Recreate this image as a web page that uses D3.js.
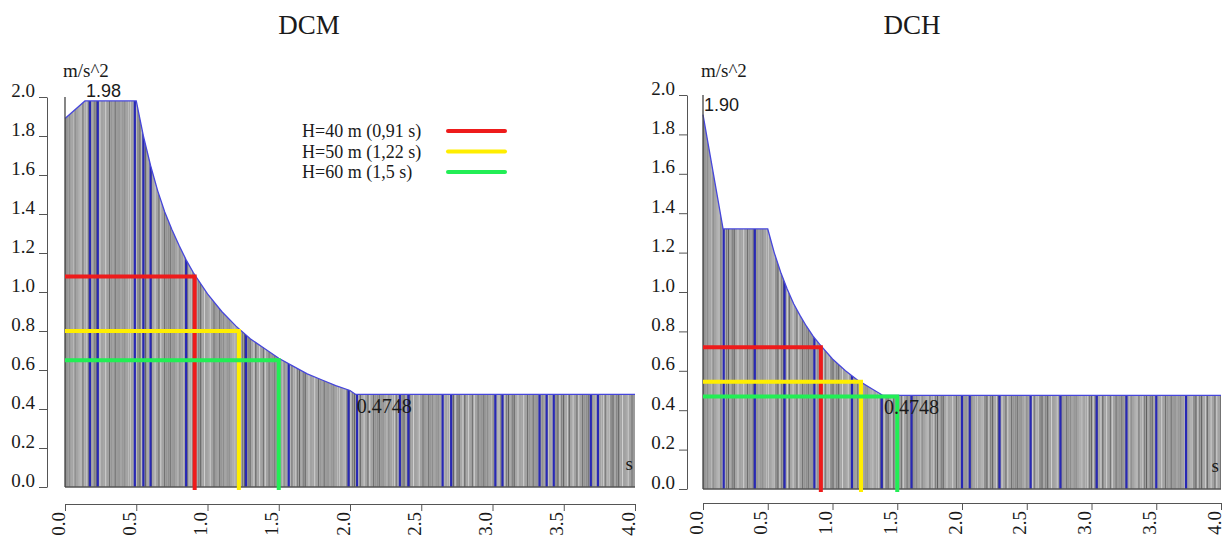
<!DOCTYPE html>
<html>
<head>
<meta charset="utf-8">
<script src="https://cdn.jsdelivr.net/npm/d3@7"></script>
<style>
  html, body { margin: 0; padding: 0; background: #fff; }
  svg { display: block; }
</style>
</head>
<body>
<svg id="chart" width="1223" height="538"></svg>
<script>
// ---------------- DATA ----------------
const titles = ["DCM", "DCH"];
const unitLabel = "m/s^2";
const xUnitLabel = "s";

// DCM spectrum (period s, acceleration m/s^2)
const dcmT = [0, 0.14, 0.5, 0.55, 0.6, 0.65, 0.7, 0.75, 0.8, 0.85, 0.9, 1.0, 1.1, 1.2, 1.3, 1.4, 1.5, 1.6, 1.7, 1.8, 1.9, 2.0, 2.04, 4.0];
const dcmA = [1.89, 1.98, 1.98, 1.80, 1.65, 1.52, 1.41, 1.32, 1.24, 1.165, 1.10, 0.99, 0.90, 0.825, 0.76, 0.71, 0.66, 0.62, 0.58, 0.55, 0.52, 0.495, 0.4748, 0.4748];

// DCH spectrum
const dchT = [0, 0.155, 0.5, 0.55, 0.6, 0.65, 0.7, 0.75, 0.8, 0.85, 0.9, 1.0, 1.1, 1.2, 1.3, 1.39, 4.0];
const dchA = [1.90, 1.32, 1.32, 1.20, 1.10, 1.015, 0.94, 0.88, 0.825, 0.776, 0.735, 0.66, 0.60, 0.55, 0.51, 0.4748, 0.4748];

// blue vertical marks (periods)
const dcmBlueT = [0.175, 0.23, 0.49, 0.55, 0.60, 0.85, 1.27, 1.57, 1.99, 2.05, 2.35, 2.41, 2.65, 2.71, 3.02, 3.07, 3.33, 3.38, 3.43, 3.69, 3.74];
const dchBlueT = [0.16, 0.40, 0.63, 0.86, 1.15, 1.38, 1.61, 2.0, 2.06, 2.29, 2.53, 2.76, 3.04, 3.27, 3.50, 3.73];

// building periods and spectral values
const legendLabels = ["H=40 m (0,91 s)", "H=50 m (1,22 s)", "H=60 m (1,5 s)"];
const markerColors = ["#ee1b1b", "#ffee00", "#22ee55"];
const markerT = [0.91, 1.22, 1.5];
const dcmMarkA = [1.08, 0.80, 0.65];
const dchMarkA = [0.72, 0.545, 0.47];

// annotations
const dcmPeakLabel = "1.98", dcmPeakT = 0.14, dcmPeakA = 1.98;
const dchPeakLabel = "1.90", dchPeakT = 0, dchPeakA = 1.90;
const floorLabel = "0.4748";
const dcmFloorT = 2.04, dchFloorT = 1.39, floorA = 0.4748;

const xTicks = [0, 0.5, 1.0, 1.5, 2.0, 2.5, 3.0, 3.5, 4.0];
const yTicks = [0, 0.2, 0.4, 0.6, 0.8, 1.0, 1.2, 1.4, 1.6, 1.8, 2.0];

// ---------------- DRAW ----------------
const svg = d3.select("#chart");
const SERIF = "'Liberation Serif', 'Times New Roman', serif";
const SANS = "'Liberation Sans', Arial, sans-serif";
const TXT = "#1a1a1a";
const AX = "#555";

const hatchColors = ["#6f6f6f", "#aaaaaa", "#c8c8c8", "#8c8c8c", "#a2a2a2", "#606060", "#bababa", "#959595", "#d0d0d0", "#7c7c7c", "#a6a6a6"];

function panel(cfg) {
  const g = svg.append("g");
  const x = d3.scaleLinear().domain([0, 4]).range([cfg.x0, cfg.x1]);
  const y = d3.scaleLinear().domain([0, 2]).range([cfg.yb, cfg.yt]);
  const pts = cfg.T.map((t, i) => [t, cfg.A[i]]);

  // title
  g.append("text").attr("x", cfg.titleX).attr("y", 34)
    .attr("text-anchor", "middle").style("font-family", SERIF)
    .style("font-size", "27px").attr("fill", TXT).text(cfg.title);

  // unit label
  g.append("text").attr("x", cfg.x0 - 2).attr("y", cfg.unitY)
    .style("font-family", SERIF).style("font-size", "19px").attr("fill", TXT).text(unitLabel);

  // area
  const area = d3.area().x(d => x(d[0])).y0(y(0)).y1(d => y(d[1]));
  const line = d3.line().x(d => x(d[0])).y(d => y(d[1]));
  const clipId = "clip-" + cfg.title;
  svg.append("defs").append("clipPath").attr("id", clipId)
    .append("path").attr("d", area(pts));

  g.append("path").attr("d", area(pts)).attr("fill", "#a3a3a3");

  const hatch = g.append("g").attr("clip-path", `url(#${clipId})`);
  const xs = d3.range(cfg.x0 + 0.8, cfg.x1, 1.9);
  hatch.selectAll("line.h").data(xs).enter().append("line")
    .attr("x1", d => d).attr("x2", d => d)
    .attr("y1", y(2.05)).attr("y2", y(0))
    .attr("stroke", (d, i) => hatchColors[(i * 7 + Math.floor(i / 5)) % hatchColors.length])
    .attr("stroke-width", 1);

  hatch.selectAll("line.b").data(cfg.blue).enter().append("line")
    .attr("x1", d => x(d)).attr("x2", d => x(d))
    .attr("y1", y(2.05)).attr("y2", y(0))
    .attr("stroke", "#2828b4").attr("stroke-width", 2.2);

  // outline
  g.append("path").attr("d", line(pts)).attr("fill", "none")
    .attr("stroke", "#4646dc").attr("stroke-width", 1.3);
  g.append("line").attr("x1", x(0)).attr("x2", x(4)).attr("y1", y(0)).attr("y2", y(0))
    .attr("stroke", "#555").attr("stroke-width", 1.5);
  g.append("line").attr("x1", x(0)).attr("x2", x(0)).attr("y1", y(0)).attr("y2", y(2))
    .attr("stroke", "#444").attr("stroke-width", 1.3);

  // period markers
  markerT.forEach((t, i) => {
    const a = cfg.mark[i];
    g.append("path")
      .attr("d", `M${x(0)},${y(a)}H${x(t)}V${y(0) + 3}`)
      .attr("fill", "none").attr("stroke", markerColors[i])
      .attr("stroke-width", 4).attr("stroke-linejoin", "miter");
  });

  // peak label
  g.append("text").attr("x", x(cfg.peakT) + 1).attr("y", y(cfg.peakA) - 4)
    .style("font-family", SANS).style("font-size", "18px").attr("fill", TXT).text(cfg.peakLabel);

  // floor label
  g.append("text").attr("x", x(cfg.floorT) + 1).attr("y", y(floorA) + 19)
    .style("font-family", SERIF).style("font-size", "20px").attr("fill", TXT).text(floorLabel);

  // s label
  g.append("text").attr("x", x(4) - 2).attr("y", cfg.yb - 17)
    .attr("text-anchor", "end")
    .style("font-family", SERIF).style("font-size", "19px").attr("fill", TXT).text(xUnitLabel);

  // y axis
  const ya = g.append("g").attr("transform", `translate(${cfg.yAxisX},0)`)
    .call(d3.axisLeft(y).tickValues(yTicks).tickFormat(d3.format(".1f")).tickSize(8).tickSizeOuter(0));
  ya.select(".domain").attr("stroke", AX);
  ya.selectAll(".tick line").attr("stroke", AX);
  ya.selectAll(".tick text").attr("x", -12).attr("dy", 0).attr("y", -1)
    .style("font-family", SERIF).style("font-size", "19px").attr("fill", TXT);

  // x axis
  const xa = g.append("g").attr("transform", `translate(0,${cfg.xAxisY})`)
    .call(d3.axisBottom(x).tickValues(xTicks).tickFormat(d3.format(".1f")).tickSize(7).tickSizeOuter(0));
  xa.select(".domain").attr("stroke", AX);
  xa.selectAll(".tick line").attr("stroke", AX);
  xa.selectAll(".tick text").attr("transform", "rotate(-90)")
    .attr("x", -8).attr("y", -1).attr("dy", 0)
    .style("text-anchor", "end")
    .style("font-family", SERIF).style("font-size", "19px").attr("fill", TXT);

  return { g, x, y };
}

panel({
  title: titles[0], titleX: 309, unitY: 77,
  x0: 65, x1: 635, yb: 487, yt: 97, yAxisX: 47, xAxisY: 504,
  T: dcmT, A: dcmA, blue: dcmBlueT, mark: dcmMarkA,
  peakLabel: dcmPeakLabel, peakT: dcmPeakT, peakA: dcmPeakA, floorT: dcmFloorT
});

panel({
  title: titles[1], titleX: 912, unitY: 77,
  x0: 703, x1: 1221, yb: 489, yt: 95, yAxisX: 687, xAxisY: 503,
  T: dchT, A: dchA, blue: dchBlueT, mark: dchMarkA,
  peakLabel: dchPeakLabel, peakT: dchPeakT, peakA: dchPeakA, floorT: dchFloorT
});

// legend (left panel)
const leg = svg.append("g");
legendLabels.forEach((lab, i) => {
  const cy = 131 + i * 20.5;
  leg.append("text").attr("x", 302).attr("y", cy + 6)
    .style("font-family", SERIF).style("font-size", "18px").attr("fill", TXT).text(lab);
  leg.append("line").attr("x1", 448).attr("x2", 505).attr("y1", cy).attr("y2", cy)
    .attr("stroke", markerColors[i]).attr("stroke-width", 4).attr("stroke-linecap", "round");
});
</script>
</body>
</html>
